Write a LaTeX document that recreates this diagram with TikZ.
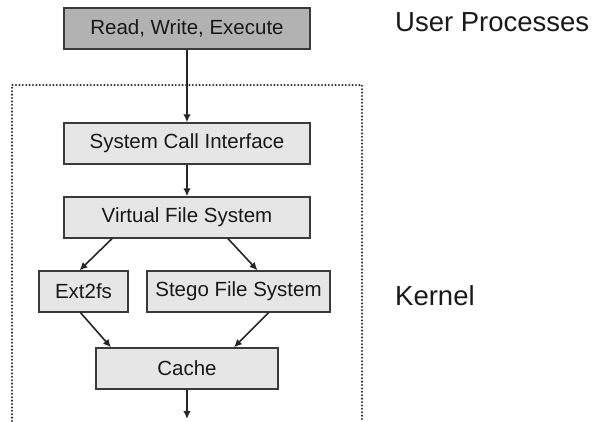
\documentclass[tikz,border=0pt]{standalone}
\usepackage{fontspec}
\setmainfont{Liberation Sans}
\usetikzlibrary{arrows.meta}
\definecolor{boxfill}{HTML}{E6E6E6}
\definecolor{topfill}{HTML}{B2B2B2}
\definecolor{edge}{HTML}{3A3A3A}
\begin{document}
\begin{tikzpicture}[x=1pt,y=-1pt,
  layer/.style={draw=edge,line width=1.3pt,fill=boxfill,inner sep=0pt,
    font=\fontsize{20.5}{22}\selectfont,text=black!90},
  flow/.style={line width=1.6pt,draw=black!85,
    -{Latex[length=8pt,width=7.5pt]}},
  label/.style={font=\fontsize{27.5}{30}\selectfont,anchor=west,inner sep=0pt,text=black!90}]
\useasboundingbox (0,0) rectangle (594,421);
% kernel region (open at the bottom)
\draw[line width=2.3pt,line cap=round,dash pattern=on 0pt off 3.4pt,black!80]
  (12,421) -- (12,85) -- (362,85) -- (362,421);
% layers
\node[layer,fill=topfill,minimum width=246pt,minimum height=41pt] (rwe) at (187,28.5) {Read, Write, Execute};
\node[layer,minimum width=246pt,minimum height=41pt] (sci) at (187,143.5) {System Call Interface};
\node[layer,minimum width=246pt,minimum height=41pt] (vfs) at (187,217.5) {Virtual File System};
\node[layer,minimum width=89pt,minimum height=41pt] (ext) at (83.5,291.5) {Ext2fs};
\node[layer,minimum width=183pt,minimum height=41pt] (sfs) at (238.5,291.5) {Stego File System};
\node[layer,minimum width=182pt,minimum height=41pt] (cache) at (187,368.5) {Cache};
\coordinate (below) at (187,419);
% connectors
\draw[flow] (rwe) -- (sci);
\draw[flow] (sci) -- (vfs);
\draw[flow] ([xshift=-75pt]vfs.south) -- ([xshift=-4pt]ext.north);
\draw[flow] ([xshift=41pt]vfs.south) -- ([xshift=19pt]sfs.north);
\draw[flow] ([xshift=-3pt]ext.south) -- ([xshift=-76pt]cache.north);
\draw[flow] ([xshift=30pt]sfs.south) -- ([xshift=47pt]cache.north);
\draw[flow] (cache) -- (below);
% side labels
\node[label] (user) at (395,22) {User Processes};
\node[label] (kern) at (395,296) {Kernel};
\end{tikzpicture}
\end{document}
